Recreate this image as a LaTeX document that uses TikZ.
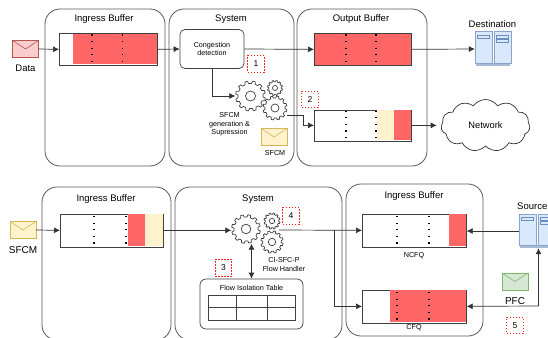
\documentclass[tikz,border=0pt]{standalone}
\usepackage{fontspec}
\setmainfont{Liberation Sans}
\usetikzlibrary{shapes.symbols,arrows.meta,calc}
\definecolor{qred}{HTML}{FF6666}
\definecolor{qyellow}{HTML}{FFF2CC}
\definecolor{yline}{HTML}{D6B656}
\definecolor{rfill}{HTML}{F8CECC}
\definecolor{rline}{HTML}{B85450}
\definecolor{gfill}{HTML}{D5E8D4}
\definecolor{gline}{HTML}{82B366}
\definecolor{bfill}{HTML}{DAE8FC}
\definecolor{bline}{HTML}{6C8EBF}
\def\gearpath{(0:1) foreach \a in {0,30,...,330} {-- (\a+4:1) -- (\a+8:1.2) -- (\a+18:1.2) -- (\a+22:1) -- (\a+30:1)} -- cycle}
\tikzset{
  panel/.style={draw=black!65,line width=0.8pt,rounded corners=15pt},
  panelname/.style={font=\fontsize{9.5}{11}\selectfont,inner sep=0pt},
  smalltext/.style={font=\fontsize{7.2}{8.6}\selectfont,align=center,inner sep=0pt},
  midtext/.style={font=\fontsize{9.5}{11}\selectfont,inner sep=0pt},
  bigtext/.style={font=\fontsize{10}{12}\selectfont,inner sep=0pt},
  queue/.style={draw=black!75,line width=0.7pt,inner sep=0pt,anchor=north west},
  numbox/.style={draw=red!85,dash pattern=on 1.5pt off 1.5pt,line width=0.9pt,fill=white,inner sep=0pt,minimum size=16.5pt,font=\fontsize{8.5}{10}\selectfont},
  link/.style={draw=black!80,line width=0.7pt},
  flow/.style={link,-{Latex[length=6pt,width=6pt]}},
  slots/.style={black,line width=1.2pt,dash pattern=on 1.2pt off 5.4pt},
  pics/gearicon/.style={code={
    \draw[black!75,fill=white,line width=0.7pt] \gearpath;
    \draw[black!75,line width=0.7pt] (0,0) circle (0.4);
  }},
  pics/envelope/.style 2 args={code={
    \draw[draw=#2,fill=#1,line width=0.6pt] (-13,-8.5) rectangle (13,8.5);
    \draw[draw=#2,line width=0.6pt] (-13,-8.5) -- (0,0) -- (13,-8.5);
  }},
  pics/server/.style={code={
    \fill[bline!60] (1.5,31) rectangle (35.5,34);
    \foreach \dx in {0,19}{
      \draw[draw=bline!80,fill=bfill,line width=0.6pt] (\dx,0) rectangle (\dx+17,31);
    }
    \draw[draw=bline,line width=0.5pt] (2.5,3.5) rectangle (14.5,6.5);
    \draw[draw=bline,line width=0.5pt] (21.5,3.5) rectangle (33.5,6.5);
    \draw[draw=bline,line width=0.5pt] (21.5,7.5) rectangle (33.5,10.5);
  }}
}
\begin{document}
\begin{tikzpicture}[x=1pt,y=-1pt]
  \clip (0,0) rectangle (548,337);
  \fill[white] (0,0) rectangle (548,337);
  % top row
  \draw[panel] (45,9) rectangle (165,166);
  \draw[panel] (169,9) rectangle (294,166);
  \draw[panel] (297,9) rectangle (427,166);
  \node[panelname] (ingresstop) at (104,19) {Ingress Buffer};
  \node[panelname] (systemtop) at (231,19) {System};
  \node[panelname] (outputtop) at (361,19) {Output Buffer};

  \node[minimum width=26pt,minimum height=17pt,inner sep=0pt] (data) at (25.5,49) {};
  \pic at (data) {envelope={rfill}{rline}};
  \node[midtext] (datatext) at (25.5,68) {Data};

  \node[queue,minimum width=98pt,minimum height=31pt] (inqueue) at (59,33.5) {};
  \fill[qred] (73,33.9) rectangle (156.6,64.1);
  \draw[slots] (92,34.5) -- (92,64);
  \draw[slots] (122.5,34.5) -- (122.5,64);

  \node[draw=black!75,line width=0.7pt,rounded corners=5pt,minimum width=64pt,minimum height=39pt,smalltext] (detect) at (212,49) {Congestion\\detection};
  \node[numbox] (numone) at (256,64) {1};

  \node[circle,inner sep=0pt,minimum size=30pt] (gearbig) at (250.5,96) {};
  \node[circle,inner sep=0pt,minimum size=15pt] (gearup) at (275,88) {};
  \node[circle,inner sep=0pt,minimum size=24pt] (geardown) at (275,108) {};
  \pic[scale=6.3] at (gearup) {gearicon};
  \pic[scale=10] at (geardown) {gearicon};
  \pic[scale=12.5] at (gearbig) {gearicon};
  \node[smalltext] (gentext) at (229.5,124.5) {SFCM\\generation \&\\Supression};
  \node[minimum width=26pt,minimum height=17pt,inner sep=0pt] (sfcmtop) at (274,137) {};
  \pic at (sfcmtop) {envelope={qyellow}{yline}};
  \node[smalltext] (sfcmtoptext) at (275,153.5) {SFCM};
  \coordinate (gentap) at (287,115);
  \coordinate (genbend) at (303,115);

  \node[queue,minimum width=97pt,minimum height=31pt,fill=qred] (outqueue) at (314,33.5) {};
  \draw[slots] (346,34.5) -- (346,64);
  \draw[slots] (376,34.5) -- (376,64);
  \node[queue,minimum width=97pt,minimum height=31pt] (mixqueue) at (314,109.5) {};
  \fill[qyellow] (377,109.9) rectangle (394,140.1);
  \fill[qred] (394,109.9) rectangle (410.6,140.1);
  \draw[slots] (346,110.5) -- (346,140);
  \draw[slots] (376,110.5) -- (376,140);
  \node[numbox] (numtwo) at (310,99.5) {2};

  \node[minimum width=37pt,minimum height=34pt,inner sep=0pt] (dest) at (493.5,49) {};
  \pic at (dest.north west) {server};
  \node[midtext] (desttext) at (492.5,24.5) {Destination};
  \node[cloud,draw=black!80,line width=0.7pt,cloud puffs=11,cloud puff arc=110,aspect=1.8,minimum width=89pt,minimum height=52pt,inner sep=0pt,font=\fontsize{9.3}{11}\selectfont] (network) at (485.5,125.5) {Network};

  \draw[flow] (data.east) -- (inqueue.west);
  \draw[flow] (inqueue.east) -- (detect.west);
  \draw[flow] (detect.east) -- (outqueue.west);
  \draw[flow] (outqueue.east) -- (dest.west);
  \draw[flow] (detect.south) |- (gearbig.west);
  \draw[flow] (gentap) -- (genbend) |- (mixqueue.west);
  \draw[flow] (mixqueue.east) -- ($(mixqueue.east)+(25,0)$);

  % bottom row
  \draw[panel] (42,187) rectangle (171,340);
  \draw[panel] (175,187) rectangle (342,340);
  \draw[panel] (346,184) rectangle (483,336);
  \node[panelname] (ingressone) at (106,199) {Ingress Buffer};
  \node[panelname] (systembot) at (258,199) {System};
  \node[panelname] (ingresstwo) at (414,196.5) {Ingress Buffer};

  \node[minimum width=26pt,minimum height=17pt,inner sep=0pt] (sfcmbot) at (23,230) {};
  \pic at (sfcmbot) {envelope={qyellow}{yline}};
  \node[bigtext] (sfcmbottext) at (23,250) {SFCM};

  \node[queue,minimum width=103pt,minimum height=33pt] (sfcmqueue) at (60,213.5) {};
  \fill[qred] (128,213.9) rectangle (145,246.1);
  \fill[qyellow] (145,213.9) rectangle (162.6,246.1);
  \draw[slots] (94,216) -- (94,247);
  \draw[slots] (126,216) -- (126,247);

  \node[circle,inner sep=0pt,minimum size=29pt] (handlerbig) at (246,229) {};
  \node[circle,inner sep=0pt,minimum size=16pt] (handlerup) at (272,221) {};
  \node[circle,inner sep=0pt,minimum size=23pt] (handlerdown) at (272,242) {};
  \pic[scale=6.7] at (handlerup) {gearicon};
  \pic[scale=9.3] at (handlerdown) {gearicon};
  \pic[scale=12] at (handlerbig) {gearicon};
  \node[smalltext] (handlertext) at (284,264.5) {CI-SFC-P\\Flow Handler};
  \node[numbox] (numfour) at (291,216) {4};
  \node[numbox] (numthree) at (223.5,268) {3};
  \coordinate (handlertap) at (279,230);
  \coordinate (handlerdrop) at (334,230);

  \node[draw=black!75,line width=0.7pt,rounded corners=6pt,minimum width=103pt,minimum height=50pt] (tablebox) at (251.5,304) {};
  \node[smalltext] (tabletext) at (251.5,288) {Flow Isolation Table};
  \draw[black!75,line width=0.6pt] (208,295.5) rectangle (295,320);
  \draw[black!75,line width=0.6pt] (208,307.5) -- (295,307.5);
  \foreach \xcol in {236.5,267}{
    \draw[black!75,line width=0.6pt] (\xcol,295.5) -- (\xcol,320);
  }

  \node[queue,minimum width=104pt,minimum height=33pt] (ncfq) at (362,213.5) {};
  \fill[qred] (449,213.9) rectangle (465.6,246.1);
  \draw[slots] (397,216) -- (397,247);
  \draw[slots] (429,216) -- (429,247);
  \node[smalltext] (ncfqtext) at (414,256) {NCFQ};

  \node[queue,minimum width=104pt,minimum height=33pt] (cfq) at (362,289.5) {};
  \fill[qred] (390,289.9) rectangle (465.6,322.1);
  \draw[slots] (397,292) -- (397,322);
  \draw[slots] (429,292) -- (429,322);
  \node[smalltext] (cfqtext) at (414,328) {CFQ};

  \node[minimum width=37pt,minimum height=34pt,inner sep=0pt] (source) at (537.5,231) {};
  \pic at (source.north west) {server};
  \node[panelname,anchor=east] (sourcetext) at (547.5,206) {Source};
  \node[minimum width=27pt,minimum height=17pt,inner sep=0pt] (pfc) at (515,281.5) {};
  \pic at (pfc) {envelope={gfill}{gline}};
  \node[bigtext] (pfctext) at (515,301) {PFC};
  \node[numbox] (numfive) at (515,325.5) {5};
  \coordinate (pfcturn) at (538.5,306);

  \draw[flow] (sfcmbot.east) -- (sfcmqueue.west);
  \draw[flow] (sfcmqueue.east) -- (sfcmqueue.east -| handlerbig.west);
  \draw[flow,{Latex[length=6pt,width=6pt]}-{Latex[length=6pt,width=6pt]}] (tablebox.north |- handlerbig.south) -- (tablebox.north);
  \draw[flow] (handlertap) -- (ncfq.west);
  \draw[flow] (handlerdrop) |- (cfq.west);
  \draw[flow] (source.west) -- (source.west -| ncfq.east);
  \draw[flow] (pfcturn) -- (cfq.east);
  \draw[flow] (pfcturn) -- (pfcturn |- source.south);
\end{tikzpicture}
\end{document}
